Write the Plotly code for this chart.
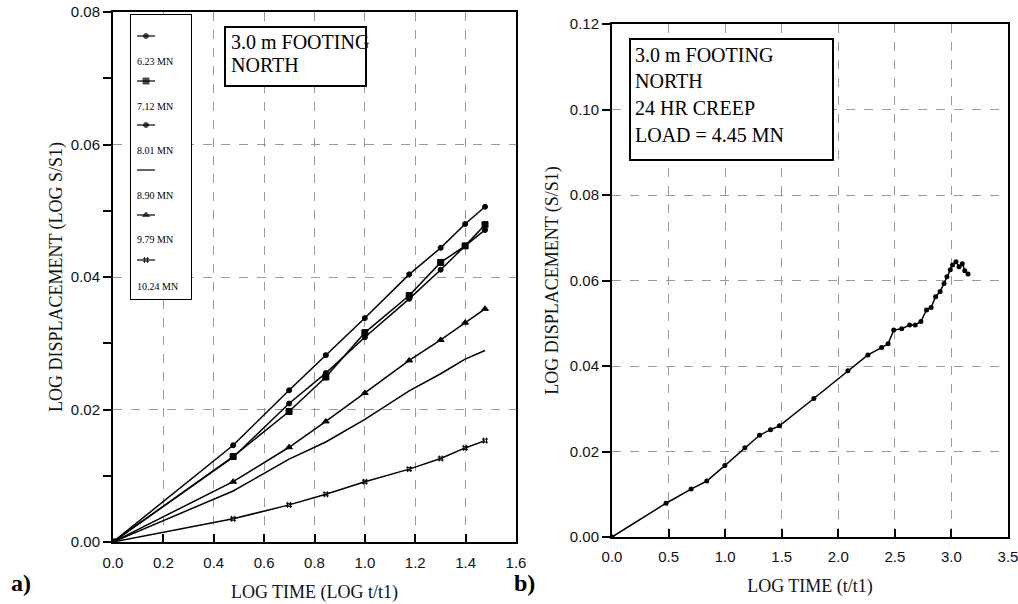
import plotly.graph_objects as go

W, H = 1018, 604

# ---------------- data: chart a) ----------------
log_time_a = [0.0, 0.477, 0.699, 0.845, 1.0, 1.176, 1.301, 1.398, 1.477]
load_labels = ["6.23 MN", "7.12 MN", "8.01 MN", "8.90 MN", "9.79 MN", "10.24 MN"]
disp_623 = [0.0, 0.0146, 0.0229, 0.0282, 0.0338, 0.0404, 0.0444, 0.0480, 0.0506]
disp_712 = [0.0, 0.0129, 0.0197, 0.0249, 0.0316, 0.0372, 0.0422, 0.0447, 0.0479]
disp_801 = [0.0, 0.0128, 0.0209, 0.0255, 0.0309, 0.0367, 0.0411, 0.0447, 0.0471]
disp_890 = [0.0, 0.0077, 0.0125, 0.0151, 0.0185, 0.0228, 0.0254, 0.0276, 0.0289]
disp_979 = [0.0, 0.0091, 0.0143, 0.0182, 0.0225, 0.0274, 0.0305, 0.0331, 0.0352]
disp_1024 = [0.0, 0.0035, 0.0056, 0.0072, 0.0091, 0.0110, 0.0126, 0.0142, 0.0153]
series_a = [disp_623, disp_712, disp_801, disp_890, disp_979, disp_1024]
symbols_a = ["circle", "square", "circle", None, "triangle-up", "hash-open"]
sizes_a = [5, 6, 5, 0, 6, 6]

x_range_a = [0, 1.6000001]
y_range_a = [0, 0.0800001]

# ---------------- data: chart b) ----------------
log_time_b = [0.0, 0.478, 0.699, 0.838, 0.997, 1.174, 1.304, 1.401, 1.480, 1.784,
              2.085, 2.262, 2.383, 2.44, 2.49, 2.56, 2.63, 2.68, 2.73, 2.78, 2.82,
              2.86, 2.90, 2.935, 2.96, 2.99, 3.01, 3.04, 3.067, 3.096, 3.118, 3.147]
disp_b = [0.0, 0.0079, 0.0112, 0.0131, 0.0167, 0.0209, 0.0238, 0.0251, 0.0260, 0.0324,
          0.0389, 0.0426, 0.0443, 0.0452, 0.0484, 0.0487, 0.0496, 0.0496, 0.0504, 0.0531, 0.0537,
          0.0562, 0.0574, 0.0593, 0.0609, 0.0625, 0.0636, 0.0644, 0.0632, 0.0639, 0.0623, 0.0615]
x_range_b = [0, 3.5000001]
y_range_b = [0, 0.1200001]

# plot-area frames in window pixels (left, right, top, bottom)
A = (113, 516, 12, 542)
B = (612, 1008, 24, 537)


def px(x):
    return x / W


def py(y):
    return 1 - y / H


def data_x(frame, rng, pix):
    return rng[0] + (pix - frame[0]) / (frame[1] - frame[0]) * (rng[1] - rng[0])


def data_y(frame, rng, pix):
    return rng[0] + (frame[3] - pix) / (frame[3] - frame[2]) * (rng[1] - rng[0])


fig = go.Figure()

for vals, sym, sz, name in zip(series_a, symbols_a, sizes_a, load_labels):
    fig.add_trace(go.Scatter(
        x=log_time_a, y=vals, mode="lines+markers" if sym else "lines",
        line=dict(color="black", width=1.5),
        marker=dict(symbol=sym or "circle", size=sz, color="black",
                    line=dict(color="black", width=1)),
        name=name, xaxis="x", yaxis="y", showlegend=False))

# legend glyphs (overlay axis in legend box, pixel-like coordinates)
leg_line_y = [36, 81, 125, 170, 215, 260]
leg_text_y = [62, 107, 151, 196, 240, 286]
for sym, sz, ly in zip(symbols_a, sizes_a, leg_line_y):
    fig.add_trace(go.Scatter(
        x=[137, 146, 155], y=[ly, ly, ly], mode="lines+markers" if sym else "lines",
        line=dict(color="black", width=1.2),
        marker=dict(symbol=sym or "circle", size=[0, sz, 0], color="black",
                    line=dict(color="black", width=1)),
        xaxis="x3", yaxis="y3", showlegend=False, hoverinfo="skip"))

fig.add_trace(go.Scatter(
    x=log_time_b, y=disp_b, mode="lines+markers",
    line=dict(color="black", width=1.5),
    marker=dict(symbol="circle", size=5, color="black"),
    xaxis="x2", yaxis="y2", showlegend=False))

serif = "Liberation Serif"
sans = "Liberation Sans"
tickfont = dict(family=sans, size=15, color="#111")
titlefont = dict(family=serif, size=18, color="#111")
grid = dict(showgrid=True, gridcolor="#9a9a9a", gridwidth=1, griddash="dash")
axline = dict(showline=True, linecolor="black", linewidth=2, mirror=True, zeroline=False,
              automargin=False, ticklabeloverflow="allow")

fig.update_layout(
    width=W, height=H, margin=dict(l=0, r=0, t=0, b=0),
    paper_bgcolor="white", plot_bgcolor="white",
    xaxis=dict(domain=[px(A[0]), px(A[1])], range=x_range_a, tick0=0, dtick=0.2, tickformat=".1f",
               ticks="inside", ticklen=8, tickwidth=2, tickcolor="black", ticklabelstandoff=6,
               tickfont=tickfont, title=dict(text="LOG TIME (LOG t/t1)", font=titlefont, standoff=15),
               anchor="y", **grid, **axline),
    yaxis=dict(domain=[py(A[3]), py(A[2])], range=y_range_a, tick0=0, dtick=0.02, tickformat=".2f",
               ticks="outside", ticklen=8, tickwidth=2, tickcolor="black",
               minor=dict(dtick=0.01, tick0=0, ticks="outside", ticklen=8, tickwidth=2,
                          tickcolor="black", showgrid=False),
               tickfont=tickfont, title=dict(text="LOG DISPLACEMENT (LOG S/S1)", font=titlefont, standoff=3),
               anchor="x", **grid, **axline),
    xaxis2=dict(domain=[px(B[0]), px(B[1])], range=x_range_b, tick0=0, dtick=0.5, tickformat=".1f",
                ticks="inside", ticklen=8, tickwidth=2, tickcolor="black", ticklabelstandoff=5,
                tickfont=tickfont, title=dict(text="LOG TIME (t/t1)", font=titlefont, standoff=15),
                anchor="y2", **grid, **axline),
    yaxis2=dict(domain=[py(B[3]), py(B[2])], range=y_range_b, tick0=0, dtick=0.02, tickformat=".2f",
                ticks="outside", ticklen=8, tickwidth=2, tickcolor="black",
                tickfont=tickfont, title=dict(text="LOG DISPLACEMENT (S/S1)", font=titlefont, standoff=6),
                anchor="x2", **grid, **axline),
    xaxis3=dict(domain=[px(131), px(191)], range=[131, 191], visible=False, anchor="y3"),
    yaxis3=dict(domain=[py(299), py(15)], range=[299, 15], visible=False, anchor="x3"),
)


def box_a(x0, x1, y0, y1):
    return dict(type="rect", xref="x", yref="y", layer="between",
                x0=data_x(A, x_range_a, x0), x1=data_x(A, x_range_a, x1),
                y0=data_y(A, y_range_a, y1), y1=data_y(A, y_range_a, y0),
                line=dict(color="black", width=2), fillcolor="white")


shapes = [
    box_a(131, 191, 15, 299),   # legend box
    box_a(225, 366, 27, 86),    # text box a
    dict(type="rect", xref="x2", yref="y2", layer="between",
         x0=data_x(B, x_range_b, 630), x1=data_x(B, x_range_b, 833),
         y0=data_y(B, y_range_b, 160), y1=data_y(B, y_range_b, 39),
         line=dict(color="black", width=2), fillcolor="white"),
]
fig.update_layout(shapes=shapes)

ann = []
for lbl, ty in zip(load_labels, leg_text_y):
    ann.append(dict(xref="x3", yref="y3", x=135, y=ty, text=lbl, showarrow=False,
                    xanchor="left", yanchor="middle", font=dict(family=serif, size=10, color="black")))
for txt, ty in zip(["3.0 m FOOTING", "NORTH"], [42, 65]):
    ann.append(dict(xref="paper", yref="paper", x=px(229), y=py(ty), text=txt, showarrow=False,
                    xanchor="left", yanchor="middle", font=dict(family=serif, size=20, color="black")))
for txt, ty in zip(["3.0 m FOOTING", "NORTH", "24 HR CREEP", "LOAD = 4.45 MN"], [55, 81, 108, 135]):
    ann.append(dict(xref="paper", yref="paper", x=px(633), y=py(ty), text=txt, showarrow=False,
                    xanchor="left", yanchor="middle", font=dict(family=serif, size=20, color="black")))
ann.append(dict(xref="paper", yref="paper", x=px(9), y=py(583), text="<b>a)</b>", showarrow=False,
                xanchor="left", yanchor="middle", font=dict(family=serif, size=24, color="black")))
ann.append(dict(xref="paper", yref="paper", x=px(512), y=py(583), text="<b>b)</b>", showarrow=False,
                xanchor="left", yanchor="middle", font=dict(family=serif, size=24, color="black")))
fig.update_layout(annotations=ann)

# remove the page's default body margin so the figure fills the window exactly
fig.write_html("out.html", config={"displayModeBar": False},
               post_script="document.body.style.margin='0';")
